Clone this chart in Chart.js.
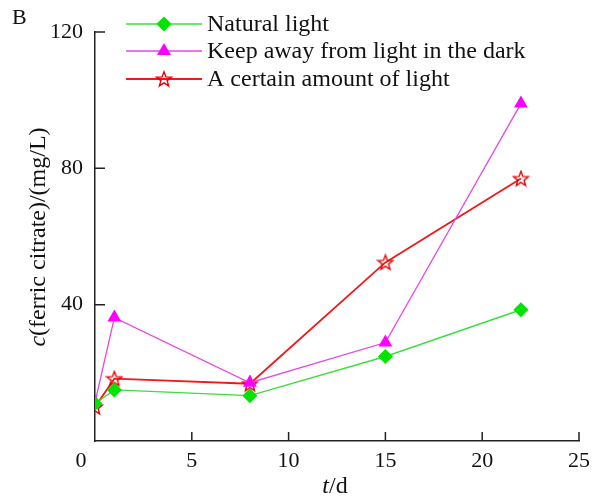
<!DOCTYPE html>
<html>
<head>
<meta charset="utf-8">
<script src="https://cdn.jsdelivr.net/npm/chart.js@4/dist/chart.umd.min.js"></script>
<style>
  body { margin: 0; background: #fff; }
  canvas { display: block; }
</style>
</head>
<body>
<canvas id="myChart" width="597" height="501"></canvas>
<script>
// data
const days = [0, 1, 8, 15, 22];
const naturalLight = [11, 15, 13.3, 24.8, 38.5];
const darkness = [11.3, 36.2, 17.1, 28.9, 99];
const certainLight = [10, 18.3, 16.8, 52.4, 77];
const seriesNames = ['Natural light', 'Keep away from light in the dark', 'A certain amount of light'];
const xTicks = [0, 5, 10, 15, 20, 25];
const yTicks = [40, 80, 120];

const serif = "'Liberation Serif', 'DejaVu Serif', serif";

// hollow five-point star used as the marker of the third series
function makeStar(color) {
    const c = document.createElement('canvas');
    c.width = 18;
    c.height = 18;
    const g = c.getContext('2d');
    g.strokeStyle = color;
    g.lineWidth = 1.4;
    g.beginPath();
    for (let i = 0; i < 10; i++) {
        const r = i % 2 === 0 ? 7.8 : 3.3;
        const a = -Math.PI / 2 + i * Math.PI / 5;
        const px = 9 + r * Math.cos(a), py = 9.6 + r * Math.sin(a);
        if (i === 0) g.moveTo(px, py); else g.lineTo(px, py);
    }
    g.closePath();
    g.stroke();
    return c;
}
const starImg = makeStar('#e80000');

function pts(vals) {
    return days.map((d, i) => ({ x: d, y: vals[i] }));
}

const datasets = [{
    label: seriesNames[0],
    data: pts(naturalLight),
    borderColor: '#3fdc3f',
    borderWidth: 1.4,
    pointStyle: 'rectRot',
    pointRadius: 7.5,
    pointBackgroundColor: '#00e400',
    pointBorderColor: '#00e400',
    pointBorderWidth: 0
}, {
    label: seriesNames[1],
    data: pts(darkness),
    borderColor: '#e548e5',
    borderWidth: 1.3,
    pointStyle: 'triangle',
    pointRadius: 8,
    pointBackgroundColor: '#ff00ff',
    pointBorderColor: '#ff00ff',
    pointBorderWidth: 0
}, {
    label: seriesNames[2],
    data: pts(certainLight),
    borderColor: '#ee1a1a',
    borderWidth: 1.8,
    pointStyle: starImg,
    pointRadius: 8
}];

const decorations = {
    id: 'decorations',
    afterDraw(chart) {
        const ctx = chart.ctx;
        const xs = chart.scales.x, ys = chart.scales.y;
        const area = chart.chartArea;
        ctx.save();

        // inward tick marks
        ctx.strokeStyle = '#222';
        ctx.lineWidth = 1.5;
        ctx.beginPath();
        xTicks.forEach(v => {
            if (v === 0) return;
            const px = xs.getPixelForValue(v);
            ctx.moveTo(px, area.bottom);
            ctx.lineTo(px, area.bottom - 9);
        });
        yTicks.forEach(v => {
            const py = ys.getPixelForValue(v);
            ctx.moveTo(area.left, py);
            ctx.lineTo(area.left + 10, py);
        });
        ctx.stroke();

        // the origin label sits left of the axis in the original
        ctx.fillStyle = '#111';
        ctx.font = '22px ' + serif;
        ctx.textAlign = 'center';
        ctx.textBaseline = 'middle';
        ctx.fillText(String(xTicks[0]), area.left - 14, area.bottom + 20);

        // panel letter
        ctx.textAlign = 'left';
        ctx.textBaseline = 'top';
        ctx.fillText('B', 12, 7);

        // legend: line with marker in the middle
        const rows = [24, 51, 79];
        datasets.forEach((ds, i) => {
            const y = rows[i];
            ctx.strokeStyle = ds.borderColor;
            ctx.lineWidth = ds.borderWidth;
            ctx.beginPath();
            ctx.moveTo(126, y);
            ctx.lineTo(202, y);
            ctx.stroke();
            const r = ds.pointRadius;
            if (ds.pointStyle === starImg) {
                ctx.drawImage(starImg, 164 - 9, y - 9);
            } else {
                ctx.fillStyle = ds.pointBackgroundColor;
                ctx.beginPath();
                if (ds.pointStyle === 'rectRot') {
                    ctx.moveTo(164, y - r); ctx.lineTo(164 + r, y);
                    ctx.lineTo(164, y + r); ctx.lineTo(164 - r, y);
                } else {
                    ctx.moveTo(164, y - r); ctx.lineTo(164 + r * 0.87, y + r * 0.5);
                    ctx.lineTo(164 - r * 0.87, y + r * 0.5);
                }
                ctx.closePath();
                ctx.fill();
            }
            ctx.fillStyle = '#111';
            ctx.font = '24px ' + serif;
            ctx.textBaseline = 'middle';
            ctx.fillText(ds.label, 207, y + 1);
        });

        // x title: t/d with italic t
        ctx.font = 'italic 24px ' + serif;
        const tW = ctx.measureText('t').width;
        ctx.font = '24px ' + serif;
        const dW = ctx.measureText('/d').width;
        let x0 = 335 - (tW + dW) / 2;
        ctx.textBaseline = 'alphabetic';
        ctx.font = 'italic 24px ' + serif;
        ctx.fillText('t', x0, 493);
        ctx.font = '24px ' + serif;
        ctx.fillText('/d', x0 + tW, 493);

        // y title: c(ferric citrate)/(mg/L) with italic c
        ctx.translate(45, 237);
        ctx.rotate(-Math.PI / 2);
        ctx.font = 'italic 24px ' + serif;
        const cW = ctx.measureText('c').width;
        ctx.font = '24px ' + serif;
        const rest = '(ferric citrate)/(mg/L)';
        const rW = ctx.measureText(rest).width;
        x0 = -(cW + rW) / 2;
        ctx.font = 'italic 24px ' + serif;
        ctx.fillText('c', x0, 0);
        ctx.font = '24px ' + serif;
        ctx.fillText(rest, x0 + cW, 0);

        ctx.restore();
    }
};

new Chart(
    document.getElementById('myChart').getContext('2d'), {
        type: 'scatter',
        data: { datasets: datasets },
        options: {
            responsive: false,
            animation: false,
            showLine: true,
            layout: { padding: { left: 0, top: 32, right: 18, bottom: 0 } },
            plugins: {
                legend: { display: false },
                tooltip: { enabled: false }
            },
            scales: {
                x: {
                    type: 'linear',
                    min: 0,
                    max: 25,
                    afterBuildTicks: s => { s.ticks = xTicks.map(v => ({ value: v })); },
                    afterFit: s => { s.height = 60; },
                    grid: { display: false, drawTicks: false, tickLength: 0 },
                    border: { display: true, color: '#222', width: 1.5 },
                    ticks: {
                        padding: 7,
                        color: '#111',
                        maxRotation: 0,
                        font: { family: serif, size: 22 },
                        callback: v => (v === xTicks[0] ? '' : v)
                    }
                },
                y: {
                    type: 'linear',
                    min: 0,
                    max: 120,
                    afterBuildTicks: s => { s.ticks = yTicks.map(v => ({ value: v })); },
                    afterFit: s => { s.width = 95; },
                    grid: { display: false, drawTicks: false, tickLength: 0 },
                    border: { display: true, color: '#222', width: 1.5 },
                    ticks: {
                        padding: 12,
                        color: '#111',
                        font: { family: serif, size: 22 }
                    }
                }
            }
        },
        plugins: [decorations]
    }
);
</script>
</body>
</html>
